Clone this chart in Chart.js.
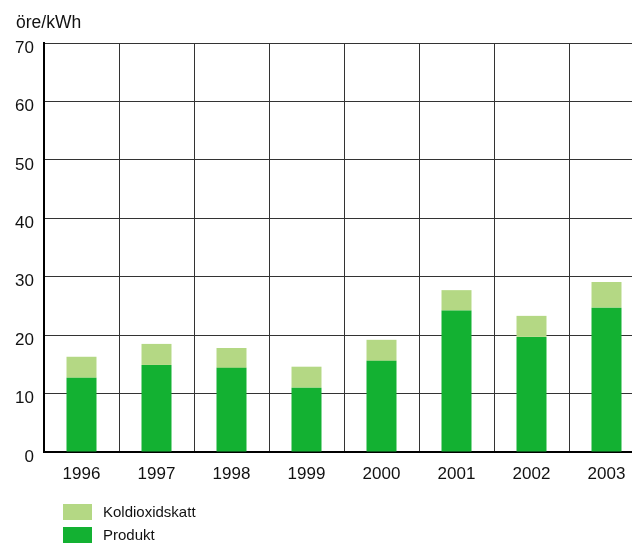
<!DOCTYPE html>
<html>
<head>
<meta charset="utf-8">
<script src="https://cdn.jsdelivr.net/npm/chart.js@4"></script>
<style>
  body { margin: 0; overflow: hidden; background: #fff; font-family: "Liberation Sans", Arial, sans-serif; }
  #wrap { position: relative; width: 632px; height: 543px; overflow: hidden; }
  #unit { position: absolute; left: 16px; top: 12px; font-size: 17.5px; color: #111; }
  .leg { position: absolute; left: 63px; font-size: 15px; color: #111; line-height: 16px; }
  .leg span { display: inline-block; width: 29px; height: 16px; vertical-align: top; margin-right: 11px; }
</style>
</head>
<body>
<div id="wrap">
  <canvas id="c" width="645" height="543"></canvas>
  <div id="unit">öre/kWh</div>
  <div class="leg" style="top:504px"><span style="background:#b4d884"></span>Koldioxidskatt</div>
  <div class="leg" style="top:527px"><span style="background:#13b132"></span>Produkt</div>
</div>
<script>
const years = ['1996', '1997', '1998', '1999', '2000', '2001', '2002', '2003'];
const produkt = [12.7, 14.9, 14.4, 11.0, 15.6, 24.2, 19.7, 24.7];
const koldioxidskatt = [3.6, 3.6, 3.4, 3.6, 3.6, 3.5, 3.6, 4.4];
const yTicks = [0, 10, 20, 30, 40, 50, 60, 70];

const ctx = document.getElementById('c').getContext('2d');

new Chart(ctx, {
    type: 'bar',
    data: {
        labels: years,
        datasets: [
            { label: 'Produkt', data: produkt, backgroundColor: '#13b132' },
            { label: 'Koldioxidskatt', data: koldioxidskatt, backgroundColor: '#b4d884' }
        ]
    },
    options: {
        responsive: false,
        animation: false,
        layout: { padding: { top: 43, right: 1, left: 0, bottom: 0 } },
        plugins: { legend: { display: false }, tooltip: { enabled: false } },
        datasets: { bar: { barPercentage: 0.4, categoryPercentage: 1 } },
        scales: {
            x: {
                stacked: true,
                afterFit: s => { s.height = 91; },
                grid: { color: '#333', lineWidth: 1, drawTicks: false },
                border: { color: '#000', width: 2 },
                ticks: { color: '#111', padding: 12, font: { family: 'Liberation Sans', size: 17 } }
            },
            y: {
                stacked: true,
                min: 0,
                max: 70,
                afterFit: s => { s.width = 44; },
                afterBuildTicks: s => { s.ticks = yTicks.map(v => ({ value: v })); },
                grid: { color: '#333', lineWidth: 1, drawTicks: false },
                border: { color: '#000', width: 2 },
                ticks: { color: '#111', padding: 10, labelOffset: 5, font: { family: 'Liberation Sans', size: 17 } }
            }
        }
    }
});
</script>
</body>
</html>
